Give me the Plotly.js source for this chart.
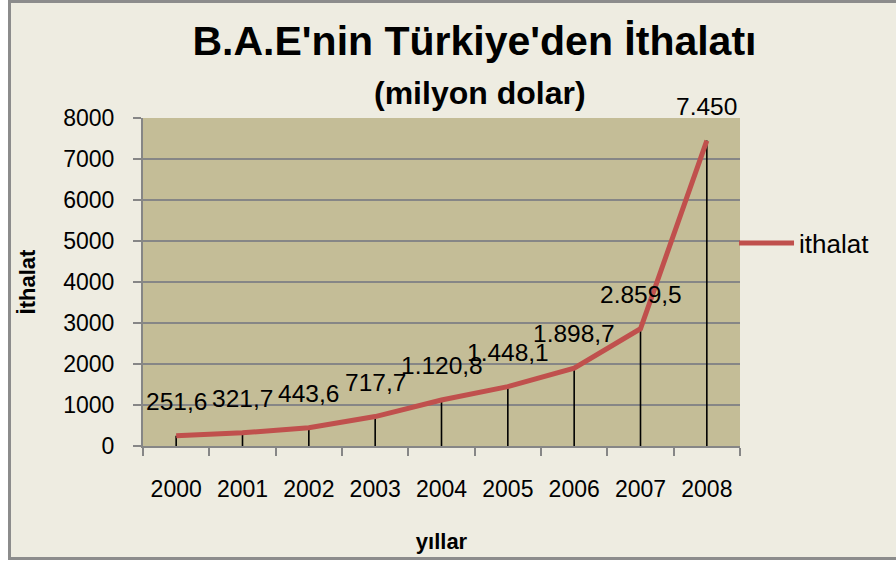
<!DOCTYPE html>
<html>
<head>
<meta charset="utf-8">
<script src="https://cdn.plot.ly/plotly-3.0.1.min.js"></script>
<style>
  html, body { margin: 0; padding: 0; background: #ffffff; width: 896px; height: 563px; overflow: hidden; }
  #frame { position: absolute; left: 8px; top: 0px; width: 900px; height: 560px; box-sizing: border-box;
           border: 3px solid #8c8c8c; background: #EEECE1; }
  #chart { position: absolute; left: 0; top: 0; width: 896px; height: 563px; }
</style>
</head>
<body>
<div id="frame"></div>
<div id="chart"></div>
<script>
// ---- data ----
const years = ['2000', '2001', '2002', '2003', '2004', '2005', '2006', '2007', '2008'];
const imports = [251.6, 321.7, 443.6, 717.7, 1120.8, 1448.1, 1898.7, 2859.5, 7450];
const valueLabels = ['251,6', '321,7', '443,6', '717,7', '1.120,8', '1.448,1', '1.898,7', '2.859,5', '7.450'];
const seriesName = 'ithalat';
const yTickVals = [0, 1000, 2000, 3000, 4000, 5000, 6000, 7000, 8000];

const FONT = 'Liberation Sans, Arial, sans-serif';
const GRID = '#868686';

const dropLines = {
  x: years, y: imports, type: 'scatter', mode: 'markers',
  marker: { size: 1, opacity: 0 },
  error_y: { type: 'data', symmetric: false, array: imports.map(() => 0), arrayminus: imports,
             width: 0, color: '#000000', thickness: 1.6 },
  showlegend: false, hoverinfo: 'skip'
};

const line = {
  x: years, y: imports, type: 'scatter', mode: 'lines', name: seriesName,
  line: { color: '#C0504D', width: 5 }
};

// category axis: annotation x uses the category index
const annotations = years.map((yr, i) => ({
  x: i, y: imports[i], xref: 'x', yref: 'y', text: valueLabels[i], showarrow: false,
  yanchor: 'bottom', yshift: 19, font: { family: FONT, size: 24.5, color: '#000' }
}));
annotations.push({
  text: '<b>(milyon dolar)</b>', xref: 'paper', yref: 'paper',
  x: (480 - 143) / 597, y: (446 - 93) / 328, xanchor: 'center', yanchor: 'middle',
  showarrow: false, font: { family: FONT, size: 32, color: '#000' }
});

const layout = {
  width: 896, height: 563,
  margin: { l: 143, r: 156, t: 118, b: 117 },
  paper_bgcolor: 'rgba(0,0,0,0)',
  plot_bgcolor: '#C4BD97',
  font: { family: FONT, size: 23, color: '#000' },
  title: {
    text: "<b>B.A.E'nin Türkiye'den İthalatı</b>",
    font: { family: FONT, size: 41, color: '#000' },
    x: 474.5 / 896, xanchor: 'center', xref: 'container',
    y: 1 - 40.5 / 563, yanchor: 'middle', yref: 'container'
  },
  xaxis: {
    type: 'category', range: [-0.5, 8.5], tickson: 'boundaries',
    ticks: 'outside', ticklen: 8, tickwidth: 2, tickcolor: GRID,
    showline: true, linecolor: GRID, linewidth: 2, showgrid: false,
    ticklabelstandoff: 21,
    tickfont: { family: FONT, size: 23, color: '#000' },
    title: { text: '<b>yıllar</b>', font: { family: FONT, size: 22, color: '#000' }, standoff: 33 }
  },
  yaxis: {
    range: [0, 8000], tickvals: yTickVals, ticktext: yTickVals.map(String),
    ticks: 'outside', ticklen: 8, tickwidth: 2, tickcolor: GRID,
    showline: true, linecolor: GRID, linewidth: 2,
    showgrid: true, gridcolor: GRID, gridwidth: 2, zeroline: false,
    ticklabelstandoff: 14,
    tickfont: { family: FONT, size: 23, color: '#000' },
    title: { text: '<b>İthalat</b>', font: { family: FONT, size: 22, color: '#000' }, standoff: 22 }
  },
  legend: {
    x: 0.99, xanchor: 'left', y: (446 - 243) / 328, yanchor: 'middle',
    itemwidth: 55,
    bgcolor: 'rgba(0,0,0,0)', font: { family: FONT, size: 26, color: '#000' }
  },
  annotations: annotations,
  showlegend: true
};

Plotly.newPlot('chart', [dropLines, line], layout, { displayModeBar: false, staticPlot: true });
</script>
</body>
</html>
